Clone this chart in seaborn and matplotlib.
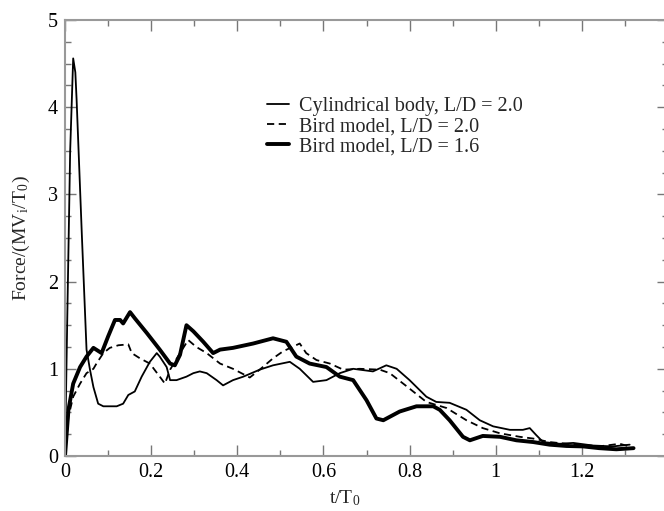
import matplotlib
matplotlib.use("Agg")
import matplotlib.pyplot as plt
import seaborn as sns
import pandas as pd
from matplotlib.ticker import MultipleLocator

# Cylindrical body, L/D = 2.0
t_cyl = [0.0, 0.005, 0.012, 0.019, 0.024, 0.027, 0.039, 0.05, 0.058, 0.066, 0.077, 0.089,
         0.12, 0.135, 0.147, 0.162, 0.178, 0.197, 0.213, 0.22, 0.236, 0.244, 0.259, 0.282,
         0.298, 0.313, 0.329, 0.352, 0.367, 0.39, 0.414, 0.452, 0.483, 0.522, 0.545, 0.576,
         0.607, 0.638, 0.669, 0.715, 0.746, 0.77, 0.80, 0.839, 0.862, 0.893, 0.932, 0.963,
         0.994, 1.033, 1.063, 1.079, 1.094, 1.11, 1.149, 1.18, 1.226, 1.272, 1.311]
f_cyl = [0.0, 1.5, 3.5, 4.56, 4.4, 4.08, 2.55, 1.22, 0.99, 0.79, 0.60, 0.57,
         0.57, 0.60, 0.70, 0.74, 0.91, 1.08, 1.18, 1.14, 1.02, 0.87, 0.87, 0.91,
         0.95, 0.97, 0.95, 0.87, 0.81, 0.87, 0.91, 0.99, 1.04, 1.08, 1.0, 0.85,
         0.87, 0.95, 1.0, 0.97, 1.04, 1.0, 0.87, 0.68, 0.62, 0.61, 0.53, 0.41,
         0.34, 0.30, 0.30, 0.32, 0.24, 0.16, 0.14, 0.15, 0.12, 0.11, 0.13]

# Bird model, L/D = 2.0
t_bird20 = [0.0, 0.008, 0.019, 0.035, 0.05, 0.066, 0.073, 0.089, 0.104, 0.124, 0.147, 0.155,
            0.174, 0.197, 0.22, 0.232, 0.244, 0.267, 0.286, 0.305, 0.329, 0.36, 0.39, 0.429,
            0.452, 0.483, 0.506, 0.545, 0.56, 0.584, 0.615, 0.646, 0.684, 0.731, 0.754, 0.793,
            0.839, 0.886, 0.932, 0.97, 1.01, 1.056, 1.087, 1.125, 1.164, 1.203, 1.24, 1.288, 1.31]
f_bird20 = [0.0, 0.45, 0.68, 0.83, 0.95, 1.0, 1.06, 1.18, 1.24, 1.27, 1.28, 1.18,
            1.12, 1.06, 0.91, 0.83, 0.99, 1.18, 1.33, 1.25, 1.18, 1.06, 1.0, 0.90,
            0.99, 1.12, 1.20, 1.29, 1.18, 1.10, 1.06, 0.99, 1.0, 0.99, 0.95, 0.80,
            0.62, 0.55, 0.41, 0.32, 0.26, 0.22, 0.20, 0.16, 0.14, 0.13, 0.11, 0.14, 0.11]

# Bird model, L/D = 1.6
t_bird16 = [0.0, 0.008, 0.019, 0.035, 0.05, 0.066, 0.085, 0.10, 0.116, 0.128, 0.135, 0.151,
            0.162, 0.19, 0.22, 0.244, 0.255, 0.267, 0.282, 0.298, 0.321, 0.344, 0.36, 0.39,
            0.437, 0.483, 0.514, 0.537, 0.568, 0.607, 0.638, 0.669, 0.70, 0.723, 0.739, 0.777,
            0.816, 0.855, 0.87, 0.893, 0.924, 0.94, 0.97, 1.01, 1.048, 1.087, 1.125, 1.164,
            1.203, 1.24, 1.28, 1.32]
f_bird16 = [0.0, 0.53, 0.83, 1.02, 1.14, 1.24, 1.18, 1.37, 1.56, 1.56, 1.52, 1.65,
            1.58, 1.41, 1.22, 1.06, 1.04, 1.16, 1.50, 1.43, 1.31, 1.18, 1.22, 1.24,
            1.29, 1.35, 1.31, 1.14, 1.06, 1.02, 0.91, 0.87, 0.64, 0.43, 0.41, 0.51,
            0.57, 0.57, 0.53, 0.41, 0.22, 0.18, 0.23, 0.22, 0.18, 0.16, 0.13, 0.115,
            0.11, 0.09, 0.077, 0.09]

labels = ["Cylindrical body, L/D = 2.0", "Bird model, L/D = 2.0", "Bird model, L/D = 1.6"]
x_ticks = [0, 0.2, 0.4, 0.6, 0.8, 1.0, 1.2]
x_tick_labels = ["0", "0.2", "0.4", "0.6", "0.8", "1", "1.2"]
y_ticks = [0, 1, 2, 3, 4, 5]

sns.set_theme(style="ticks")
plt.rcParams["font.family"] = ["Liberation Serif", "DejaVu Serif"]
plt.rcParams["mathtext.fontset"] = "stix"

fig = plt.figure(figsize=(6.64, 5.11), dpi=100)
ax = fig.add_axes([65 / 664, 55 / 511, (668 - 65) / 664, (456 - 20) / 511])

styles = [
    dict(linewidth=1.3, linestyle="-"),
    dict(linewidth=1.3, linestyle=(0, (4, 2.5))),
    dict(linewidth=2.8, linestyle="-"),
]
series = [(t_cyl, f_cyl), (t_bird20, f_bird20), (t_bird16, f_bird16)]
for (t, f), lab, st in zip(series, labels, styles):
    df = pd.DataFrame({"t": t, "F": f})
    sns.lineplot(data=df, x="t", y="F", ax=ax, color="black", estimator=None,
                 label=lab, **st)

ax.set_xlim(0, 1.4)
ax.set_ylim(0, 5)
ax.set_xticks(x_ticks)
ax.set_xticklabels(x_tick_labels)
ax.set_yticks(y_ticks)
ax.xaxis.set_minor_locator(MultipleLocator(0.1))
ax.yaxis.set_minor_locator(MultipleLocator(0.25))
ax.tick_params(which="both", direction="in", top=True, right=True,
               colors="#777777", labelcolor="black", labelsize=14.5, width=1.0)
ax.tick_params(which="major", length=8, pad=5)
ax.tick_params(which="minor", length=4)
for sp in ax.spines.values():
    sp.set_color("#999999")
    sp.set_linewidth(1.5)

ax.set_xlabel("t/T$_\\mathregular{0}$", fontsize=14)
ax.xaxis.set_label_coords(0.65 / 1.4, -0.074)
ax.set_ylabel("Force/(MV$_\\mathregular{i}$/T$_\\mathregular{0}$)", fontsize=14)
ax.yaxis.set_label_coords(-0.055, 0.5)

leg = ax.legend(loc="upper left", bbox_to_anchor=(267 / 664, 1 - 97 / 511),
                bbox_transform=fig.transFigure, frameon=False, fontsize=14.5,
                handlelength=1.1, handletextpad=0.5, labelspacing=0.05,
                borderpad=0, borderaxespad=0)

fig.savefig("out.png", dpi=100)
